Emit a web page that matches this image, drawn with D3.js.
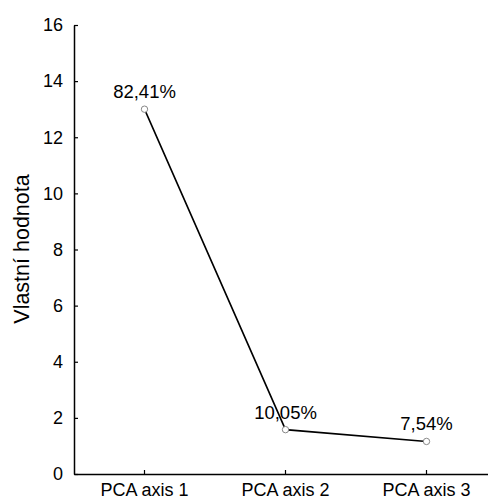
<!DOCTYPE html>
<html><head><meta charset="utf-8">
<script src="https://cdn.jsdelivr.net/npm/d3@7"></script>
<style>body{margin:0;background:#fff}svg{display:block}text{font-family:"Liberation Sans",Arial,sans-serif}</style>
</head><body>
<script>
const categories = ["PCA axis 1", "PCA axis 2", "PCA axis 3"];
const eigenvalues = [13.0, 1.58, 1.16];
const percentLabels = ["82,41%", "10,05%", "7,54%"];
const yTicks = [0, 2, 4, 6, 8, 10, 12, 14, 16];
const yTitle = "Vlastní hodnota";

const W = 488, H = 501;
const svg = d3.select("body").append("svg").attr("width", W).attr("height", H);

const x = d3.scaleBand().domain(categories).range([74, 497]);
const y = d3.scaleLinear().domain([0, 16]).range([474, 25]);
const cx = d => x(d) + x.bandwidth() / 2;

// y axis
const ya = svg.append("g").attr("transform", "translate(74,0)")
  .call(d3.axisLeft(y).tickValues(yTicks).tickSize(-4).tickPadding(11).tickSizeOuter(0));
ya.select(".domain").attr("stroke", "#000").attr("stroke-width", 1.5);
ya.selectAll(".tick line").attr("stroke", "#000").attr("stroke-width", 1.2);
ya.selectAll(".tick text").attr("font-size", 18).attr("fill", "#000")
  .attr("font-family", "Liberation Sans, Arial, sans-serif");

// x axis
const xa = svg.append("g").attr("transform", "translate(0,474)")
  .call(d3.axisBottom(x).tickSize(-4).tickPadding(9.5).tickSizeOuter(0));
xa.select(".domain").attr("stroke", "#000").attr("stroke-width", 1.5);
xa.selectAll(".tick line").attr("stroke", "#000").attr("stroke-width", 1.2);
xa.selectAll(".tick text").attr("font-size", 18).attr("fill", "#000")
  .attr("font-family", "Liberation Sans, Arial, sans-serif");

// y title
svg.append("text")
  .attr("transform", "translate(28.5,249) rotate(-90)")
  .attr("text-anchor", "middle")
  .attr("font-size", 21.5)
  .attr("fill", "#000")
  .text(yTitle);

const data = categories.map((c, i) => ({c, v: eigenvalues[i], lab: percentLabels[i]}));

svg.append("path").datum(data)
  .attr("fill", "none").attr("stroke", "#000").attr("stroke-width", 1.6)
  .attr("d", d3.line().x(d => cx(d.c)).y(d => y(d.v)));

svg.selectAll("circle.pt").data(data).join("circle")
  .attr("class", "pt")
  .attr("cx", d => cx(d.c)).attr("cy", d => y(d.v)).attr("r", 3.2)
  .attr("fill", "#fff").attr("stroke", "#888").attr("stroke-width", 1);

svg.selectAll("text.lab").data(data).join("text")
  .attr("class", "lab")
  .attr("x", d => cx(d.c)).attr("y", d => y(d.v) - 11)
  .attr("text-anchor", "middle").attr("font-size", 18.5).attr("fill", "#000")
  .text(d => d.lab);
</script>
</body></html>
